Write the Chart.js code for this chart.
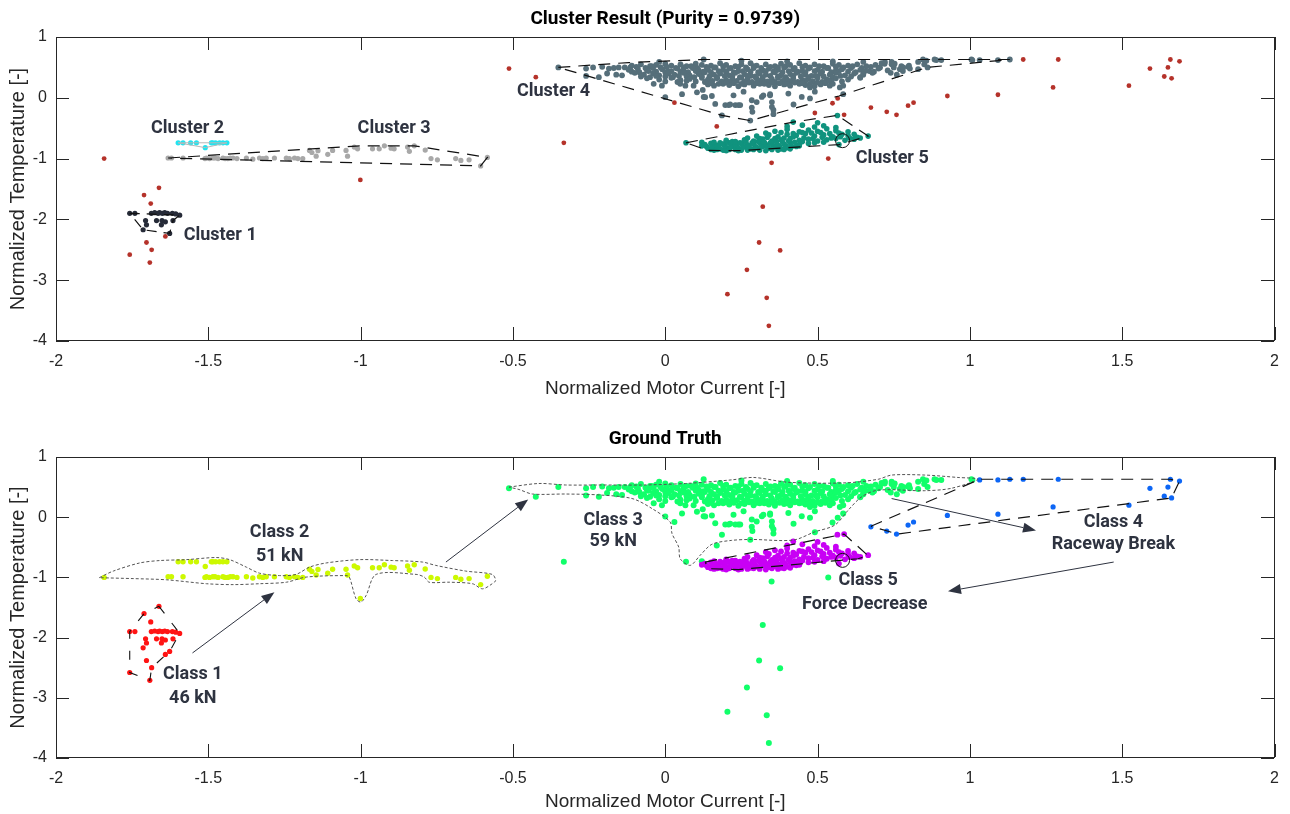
<!DOCTYPE html>
<html>
<head>
<meta charset="utf-8">
<title>Cluster Result vs Ground Truth</title>
<script src="https://cdn.jsdelivr.net/npm/chart.js@4.4.1/dist/chart.umd.min.js"></script>
<style>
  html, body { margin: 0; padding: 0; background: #fff; }
  #wrap { position: relative; width: 1290px; height: 814px; }
  #top { position: absolute; left: 0; top: 0; }
  #bottom { position: absolute; left: 0; top: 420px; }
</style>
</head>
<body>
<div id="wrap">
  <canvas id="top" width="1290" height="410"></canvas>
  <canvas id="bottom" width="1290" height="394"></canvas>
</div>
<script>
// tick values on both axes
var xTicks = [-2, -1.5, -1, -0.5, 0, 0.5, 1, 1.5, 2];
var yTicks = [-4, -3, -2, -1, 0, 1];

// cluster points, [current, temperature]
var cluster1Pts = [
  [-1.758,-1.90],[-1.741,-1.90],[-1.687,-1.90],[-1.676,-1.89],[-1.665,-1.90],[-1.660,-1.89],[-1.651,-1.90],
  [-1.643,-1.89],[-1.634,-1.90],[-1.618,-1.90],[-1.607,-1.91],[-1.594,-1.93],
  [-1.706,-2.02],[-1.670,-2.02],[-1.652,-2.02],[-1.641,-2.04],[-1.616,-2.02],
  [-1.703,-2.09],[-1.654,-2.09],[-1.714,-2.17],[-1.627,-2.23]
];
var cluster2Pts = [
  [-1.599,-0.74],[-1.583,-0.74],[-1.558,-0.74],[-1.539,-0.74],[-1.490,-0.74],[-1.485,-0.74],
  [-1.476,-0.74],[-1.463,-0.74],[-1.452,-0.74],[-1.439,-0.74],[-1.510,-0.82]
];
var cluster3Pts = [
  [-1.632,-0.99],[-1.621,-0.99],[-1.583,-0.99],[-1.511,-1.0],[-1.506,-0.99],[-1.496,-1.0],[-1.485,-0.99],
  [-1.478,-0.99],[-1.468,-1.0],[-1.452,-0.99],[-1.445,-1.0],[-1.436,-1.0],[-1.428,-0.99],[-1.419,-0.99],
  [-1.406,-1.0],[-1.375,-0.99],[-1.354,-1.01],[-1.332,-0.99],[-1.321,-1.0],[-1.31,-0.99],[-1.283,-0.99],
  [-1.244,-0.99],[-1.234,-1.0],[-1.217,-0.99],[-1.206,-1.0],[-1.19,-1.0],[-1.168,-0.865],[-1.16,-0.90],
  [-1.146,-0.96],[-1.14,-0.87],[-1.108,-0.93],[-1.092,-0.865],[-1.048,-0.865],[-1.043,-0.96],[-1.021,-0.81],
  [-1.01,-0.84],[-0.961,-0.84],[-0.939,-0.84],[-0.922,-0.79],[-0.90,-0.83],[-0.89,-0.84],[-0.846,-0.81],
  [-0.84,-0.88],[-0.824,-0.79],[-0.788,-0.86],[-0.769,-1.0],[-0.748,-1.02],[-0.688,-1.0],[-0.671,-1.03],
  [-0.644,-1.02],[-0.606,-1.12],[-0.584,-0.98]
];
var cluster4Pts = [
  [-0.351,0.50],[-0.26,0.48],[-0.237,0.50],[-0.207,0.51],[-0.185,0.48],[-0.169,0.49],[-0.153,0.50],[-0.133,0.50],
  [-0.26,0.36],[-0.218,0.34],[-0.191,0.40],[-0.161,0.38],[-0.142,0.37],
  [-0.11,0.53],[-0.08,0.55],[-0.05,0.52],[-0.03,0.54],[0.0,0.56],[0.02,0.53],[0.05,0.55],[0.07,0.52],[0.10,0.56],
  [0.12,0.54],[0.15,0.53],[0.18,0.57],[0.20,0.54],[0.23,0.52],[0.25,0.55],[0.28,0.57],[0.30,0.53],[0.33,0.55],
  [0.36,0.52],[0.38,0.56],[0.41,0.54],[0.44,0.57],[0.46,0.53],[0.49,0.55],[0.52,0.52],[0.55,0.56],[0.57,0.54],
  [0.60,0.53],[0.63,0.55],[0.66,0.52],[0.69,0.54],[0.72,0.56],
  [-0.115,0.50],[-0.095,0.51],[-0.065,0.49],[-0.045,0.52],[-0.015,0.50],[0.005,0.51],[0.035,0.49],[0.06,0.50],
  [0.085,0.52],[0.105,0.49],[0.135,0.51],[0.165,0.50],[0.19,0.52],[0.215,0.49],[0.24,0.51],[0.265,0.50],
  [0.29,0.52],[0.315,0.49],[0.345,0.51],[0.37,0.50],[0.395,0.52],[0.425,0.49],[0.45,0.51],[0.475,0.50],
  [0.505,0.52],[0.535,0.49],[0.56,0.51],[0.585,0.50],[0.615,0.52],[0.645,0.49],[0.675,0.51],[0.705,0.50],
  [-0.12,0.46],[-0.09,0.48],[-0.06,0.45],[-0.04,0.49],[-0.01,0.47],[0.01,0.44],[0.04,0.48],[0.06,0.46],[0.09,0.49],
  [0.11,0.45],[0.14,0.47],[0.16,0.50],[0.19,0.46],[0.21,0.48],[0.24,0.44],[0.27,0.47],[0.29,0.49],[0.32,0.45],
  [0.34,0.48],[0.37,0.46],[0.39,0.50],[0.42,0.47],[0.45,0.44],[0.47,0.48],[0.50,0.46],[0.53,0.49],[0.56,0.45],
  [0.58,0.47],[0.61,0.49],[0.64,0.46],[0.67,0.44],[0.70,0.48],[0.73,0.45],[0.77,0.47],
  [-0.11,0.43],[-0.085,0.42],[-0.055,0.44],[-0.03,0.43],[0.0,0.42],[0.02,0.44],[0.05,0.43],[0.075,0.42],
  [0.10,0.44],[0.125,0.43],[0.15,0.42],[0.175,0.44],[0.20,0.43],[0.225,0.42],[0.255,0.44],[0.28,0.43],
  [0.305,0.42],[0.33,0.44],[0.355,0.43],[0.385,0.42],[0.405,0.44],[0.435,0.43],[0.46,0.42],[0.49,0.44],
  [0.515,0.43],[0.545,0.42],[0.57,0.44],[0.60,0.43],[0.625,0.42],[0.655,0.44],[0.685,0.43],
  [-0.10,0.41],[-0.07,0.38],[-0.04,0.40],[-0.02,0.37],[0.01,0.40],[0.03,0.38],[0.06,0.41],[0.08,0.37],[0.11,0.39],
  [0.13,0.42],[0.16,0.38],[0.18,0.40],[0.21,0.37],[0.23,0.41],[0.26,0.39],[0.28,0.36],[0.31,0.40],[0.33,0.38],
  [0.36,0.42],[0.38,0.37],[0.41,0.39],[0.43,0.41],[0.46,0.38],[0.48,0.36],[0.51,0.40],[0.54,0.38],[0.56,0.41],
  [0.59,0.37],[0.62,0.40],[0.65,0.38],[0.68,0.41],
  [-0.08,0.35],[-0.05,0.34],[-0.03,0.36],[0.0,0.35],[0.025,0.34],[0.045,0.36],[0.07,0.35],[0.095,0.34],
  [0.12,0.36],[0.145,0.35],[0.17,0.34],[0.195,0.36],[0.22,0.35],[0.245,0.34],[0.27,0.36],[0.295,0.35],
  [0.32,0.34],[0.345,0.36],[0.37,0.35],[0.395,0.34],[0.42,0.36],[0.445,0.35],[0.47,0.34],[0.495,0.36],
  [0.52,0.35],[0.55,0.34],[0.575,0.36],[0.61,0.35],[0.64,0.34],
  [-0.06,0.32],[-0.02,0.30],[0.02,0.33],[0.05,0.29],[0.08,0.31],[0.12,0.33],[0.14,0.30],[0.17,0.32],[0.20,0.29],
  [0.22,0.31],[0.25,0.33],[0.27,0.30],[0.30,0.32],[0.32,0.29],[0.35,0.31],[0.37,0.33],[0.40,0.30],[0.42,0.32],
  [0.45,0.29],[0.47,0.31],[0.50,0.33],[0.53,0.30],[0.56,0.32],[0.60,0.30],[0.64,0.33],
  [0.0,0.27],[0.04,0.26],[0.07,0.28],[0.10,0.27],[0.13,0.26],[0.155,0.28],[0.185,0.27],[0.21,0.26],
  [0.235,0.28],[0.26,0.27],[0.285,0.26],[0.31,0.28],[0.335,0.27],[0.36,0.26],[0.385,0.28],[0.41,0.27],
  [0.435,0.26],[0.46,0.28],[0.485,0.27],[0.515,0.26],[0.545,0.28],[0.58,0.27],
  [0.14,0.22],[0.16,0.20],[0.19,0.23],[0.21,0.21],[0.24,0.19],[0.26,0.22],[0.29,0.20],[0.31,0.23],[0.34,0.21],
  [0.36,0.19],[0.39,0.22],[0.41,0.20],[0.44,0.23],[0.46,0.21],[0.49,0.19],[0.51,0.22],[0.54,0.20],
  [0.15,0.24],[0.175,0.23],[0.20,0.25],[0.225,0.24],[0.25,0.23],[0.275,0.25],[0.30,0.24],[0.325,0.23],
  [0.35,0.25],[0.375,0.24],[0.40,0.23],[0.425,0.25],[0.45,0.24],[0.475,0.23],[0.50,0.25],[0.525,0.24],[0.55,0.23],
  [0.126,0.63],[-0.02,0.59],[0.25,0.61],[0.40,0.60],[0.55,0.60],[0.65,0.59],
  [0.75,0.50],[0.78,0.44],[0.80,0.53],[0.83,0.47],[0.85,0.55],[0.74,0.41],[0.76,0.38],
  [0.710,0.57],[0.721,0.59],[0.743,0.59],[0.743,0.55],[0.753,0.56],[0.775,0.52],[0.781,0.50],[0.797,0.51],
  [0.803,0.48],[0.830,0.59],[0.846,0.63],[0.857,0.61],[0.861,0.50],[0.884,0.63],[0.890,0.62],[0.906,0.62],
  [1.005,0.63],[1.008,0.62],
  [-0.038,0.23],[-0.011,0.20],[0.000,0.01],[0.049,0.23],[0.066,0.20],[0.093,0.20],[0.104,0.09],[0.123,0.13],
  [0.131,0.01],[0.153,0.03],[0.164,-0.10],[0.197,-0.12],[0.208,-0.12],[0.230,-0.12],[0.240,-0.12],[0.224,0.04],
  [0.055,0.06],[0.126,0.015],[0.213,-0.11],[0.246,-0.12],[0.257,0.10],[0.284,-0.04],[0.284,-0.16],[0.286,-0.23],
  [0.317,0.015],[0.344,0.04],[0.350,-0.15],[0.355,-0.20],[0.421,-0.11],[0.404,0.07],[0.448,0.015],[0.475,-0.01],
  [0.491,0.10],[0.573,0.17],[0.584,0.06],[0.279,-0.375],[0.186,-0.29],[0.300,-0.07],[0.322,0.04],[0.344,0.06],
  [0.350,-0.07],[0.355,-0.27],[0.475,0.17],[0.584,0.20],[0.537,0.285],[0.650,0.395]
];
var c4TailPts = [[1.032,0.62],[1.092,0.62],[1.131,0.63]];
var c5TipPts = [[0.068,-0.74],[0.12,-0.73]];
var cluster5Pts = [
  [0.14,-0.83],[0.16,-0.81],[0.18,-0.84],[0.20,-0.82],[0.22,-0.80],[0.24,-0.83],[0.26,-0.81],[0.28,-0.84],
  [0.30,-0.82],[0.32,-0.80],[0.34,-0.83],[0.36,-0.81],[0.38,-0.84],[0.40,-0.82],[0.43,-0.80],
  [0.16,-0.86],[0.20,-0.87],[0.27,-0.86],[0.33,-0.87],[0.37,-0.86],
  [0.15,-0.85],[0.17,-0.85],[0.19,-0.86],[0.21,-0.85],[0.23,-0.85],[0.25,-0.86],[0.29,-0.85],[0.31,-0.86],
  [0.35,-0.85],[0.39,-0.85],[0.41,-0.84],
  [0.12,-0.79],[0.135,-0.80],[0.155,-0.79],[0.175,-0.80],[0.195,-0.79],[0.215,-0.80],[0.235,-0.79],[0.255,-0.80],
  [0.275,-0.79],[0.295,-0.80],[0.315,-0.79],[0.335,-0.80],[0.355,-0.79],[0.375,-0.80],[0.395,-0.79],[0.415,-0.80],[0.44,-0.79],
  [0.13,-0.77],[0.15,-0.75],[0.17,-0.78],[0.19,-0.76],[0.21,-0.74],[0.23,-0.77],[0.25,-0.75],[0.27,-0.78],
  [0.29,-0.76],[0.31,-0.74],[0.33,-0.77],[0.35,-0.75],[0.37,-0.78],[0.39,-0.76],[0.41,-0.74],[0.44,-0.77],[0.47,-0.75],
  [0.16,-0.73],[0.18,-0.74],[0.20,-0.73],[0.22,-0.72],[0.245,-0.74],[0.265,-0.73],[0.285,-0.74],[0.305,-0.72],
  [0.325,-0.73],[0.345,-0.74],[0.365,-0.72],[0.385,-0.73],[0.405,-0.71],[0.425,-0.73],[0.45,-0.72],[0.49,-0.74],[0.52,-0.73],
  [0.20,-0.70],[0.23,-0.72],[0.26,-0.69],[0.29,-0.71],[0.32,-0.68],[0.35,-0.71],[0.38,-0.69],[0.41,-0.67],
  [0.44,-0.70],[0.47,-0.68],[0.50,-0.71],[0.53,-0.69],[0.56,-0.67],[0.59,-0.70],[0.62,-0.68],[0.64,-0.66],
  [0.27,-0.66],[0.31,-0.67],[0.335,-0.65],[0.36,-0.67],[0.39,-0.66],[0.42,-0.64],[0.455,-0.66],[0.485,-0.67],
  [0.515,-0.65],[0.545,-0.66],[0.575,-0.64],[0.605,-0.66],
  [0.30,-0.63],[0.34,-0.61],[0.37,-0.64],[0.40,-0.60],[0.43,-0.62],[0.46,-0.59],[0.49,-0.63],[0.52,-0.61],
  [0.55,-0.64],[0.58,-0.60],[0.60,-0.62],[0.63,-0.65],
  [0.33,-0.58],[0.38,-0.57],[0.42,-0.59],[0.45,-0.57],[0.48,-0.58],[0.51,-0.57],[0.54,-0.59],[0.57,-0.58],[0.62,-0.60],
  [0.36,-0.55],[0.40,-0.52],[0.44,-0.56],[0.47,-0.53],[0.50,-0.55],[0.53,-0.51],[0.56,-0.54],[0.60,-0.56],
  [0.40,-0.47],[0.45,-0.45],[0.49,-0.48],[0.52,-0.46],[0.56,-0.49],
  [0.42,-0.40],[0.50,-0.41],[0.565,-0.29],[0.666,-0.63],[0.24,-0.87],[0.57,-0.77]
];

// noise points (red in the upper plot), grouped by their true class
var out1Pts = [[-1.662,-1.48],[-1.711,-1.60],[-1.689,-1.74],[-1.641,-2.28],[-1.703,-2.38],[-1.686,-2.50],[-1.758,-2.58],[-1.692,-2.71]];
var out2Pts = [[-1.842,-1.0],[-1.001,-1.35]];
var out3Pts = [
  [-0.513,0.48],[-0.425,0.34],[-0.333,-0.74],[0.030,-0.08],[0.169,-0.47],[0.349,-1.07],[0.491,-0.25],
  [0.535,-1.00],[0.549,-0.09],[0.566,-0.01],[0.320,-1.79],[0.308,-2.38],[0.377,-2.51],[0.268,-2.83],
  [0.204,-3.23],[0.333,-3.29],[0.340,-3.75]
];
var out4Pts = [
  [0.675,-0.16],[0.727,-0.23],[0.759,-0.28],[0.797,-0.13],[0.815,-0.08],[0.926,0.03],[1.092,0.05],[1.175,0.63],
  [1.273,0.17],[1.290,0.63],[1.522,0.20],[1.591,0.48],[1.638,0.35],[1.650,0.50],[1.658,0.63],[1.662,0.32],[1.688,0.60]
];
var out5Pts = [[0.587,-0.28]];

// boundaries
var hull1 = [[-1.758,-1.90],[-1.594,-1.93],[-1.616,-2.02],[-1.627,-2.23],[-1.714,-2.17],[-1.758,-1.90]];
var hull2 = [[-1.599,-0.74],[-1.439,-0.74],[-1.510,-0.82],[-1.599,-0.74]];
var hull3 = [[-1.632,-0.99],[-1.0,-0.79],[-0.824,-0.79],[-0.584,-0.98],[-0.606,-1.12],[-1.632,-0.99]];
var hull4 = [[-0.351,0.50],[-0.12,0.58],[0.126,0.63],[1.131,0.63],[0.86,0.50],[0.57,0.03],[0.279,-0.375],[0.186,-0.29],[-0.351,0.50]];
var hull5 = [[0.068,-0.74],[0.42,-0.40],[0.565,-0.29],[0.666,-0.63],[0.57,-0.77],[0.24,-0.87],[0.14,-0.865],[0.068,-0.74]];
var classHull1 = [[-1.662,-1.48],[-1.594,-1.93],[-1.627,-2.23],[-1.686,-2.50],[-1.692,-2.71],[-1.758,-2.58],[-1.758,-1.90],[-1.711,-1.60],[-1.662,-1.48]];
var classHull4 = [[0.675,-0.15],[1.032,0.63],[1.658,0.63],[1.688,0.60],[1.662,0.32],[0.762,-0.28],[0.729,-0.23],[0.675,-0.15]];
var classHull5 = [[0.131,-0.745],[0.587,-0.28],[0.666,-0.64],[0.633,-0.69],[0.24,-0.87],[0.142,-0.855],[0.131,-0.745]];
var class2Outline = [
  [-1.858,-1.005],[-1.812,-0.895],[-1.725,-0.76],[-1.659,-0.72],[-1.572,-0.705],[-1.474,-0.67],[-1.43,-0.705],
  [-1.375,-0.83],[-1.332,-0.93],[-1.266,-0.97],[-1.212,-0.95],[-1.168,-0.83],[-1.113,-0.76],[-1.004,-0.705],
  [-0.895,-0.72],[-0.797,-0.745],[-0.754,-0.80],[-0.655,-0.895],[-0.568,-0.95],[-0.557,-1.05],[-0.568,-1.105],
  [-0.60,-1.19],[-0.633,-1.105],[-0.709,-1.08],[-0.775,-1.08],[-0.791,-0.995],[-0.818,-0.95],[-0.949,-0.95],
  [-0.982,-1.30],[-0.999,-1.41],[-1.015,-1.355],[-1.037,-0.995],[-1.048,-0.97],[-1.179,-0.995],[-1.244,-1.08],
  [-1.332,-1.105],[-1.419,-1.12],[-1.506,-1.105],[-1.637,-1.04],[-1.747,-1.02],[-1.858,-1.005]
];
var class3Outline = [
  [-0.513,0.50],[-0.415,0.56],[-0.327,0.535],[-0.218,0.535],[-0.076,0.535],[0.066,0.56],[0.218,0.62],[0.29,0.66],
  [0.404,0.58],[0.59,0.57],[0.699,0.63],[0.743,0.70],[0.852,0.70],[0.961,0.66],[1.026,0.63],[0.939,0.48],
  [0.852,0.44],[0.699,0.45],[0.645,0.34],[0.601,0.12],[0.557,-0.13],[0.49,-0.245],[0.42,-0.38],[0.284,-0.37],
  [0.218,-0.385],[0.153,-0.45],[0.115,-0.63],[0.082,-0.80],[0.049,-0.69],[0.044,-0.495],[0.022,-0.27],[0.016,-0.08],
  [-0.044,0.145],[-0.109,0.31],[-0.218,0.37],[-0.327,0.385],[-0.436,0.385],[-0.48,0.46],[-0.513,0.50]
];
var circleTop = [[0.582,-0.705]];
var circleBottom = [[0.582,-0.717]];

// text and arrows
var topLabels = [
  { text: 'Cluster 1', x: -1.461, y: -2.27 },
  { text: 'Cluster 2', x: -1.568, y: -0.51 },
  { text: 'Cluster 3', x: -0.890, y: -0.51 },
  { text: 'Cluster 4', x: -0.367, y: 0.10 },
  { text: 'Cluster 5', x: 0.745, y: -1.0 }
];
var bottomLabels = [
  { text: 'Class 1', x: -1.551, y: -2.605 }, { text: '46 kN', x: -1.551, y: -3.01 },
  { text: 'Class 2', x: -1.266, y: -0.26 }, { text: '51 kN', x: -1.266, y: -0.66 },
  { text: 'Class 3', x: -0.171, y: -0.05 }, { text: '59 kN', x: -0.171, y: -0.41 },
  { text: 'Class 4', x: 1.471, y: -0.08 }, { text: 'Raceway Break', x: 1.471, y: -0.45 },
  { text: 'Class 5', x: 0.666, y: -1.05 }, { text: 'Force Decrease', x: 0.655, y: -1.455 }
];
var bottomArrows = [
  [-1.552, -2.255, -1.283, -1.245],
  [-0.720, -0.745, -0.450, 0.295],
  [0.743, 0.31, 1.217, -0.22],
  [1.472, -0.745, 0.928, -1.23]
];

var class1Pts = cluster1Pts.concat(out1Pts);
var class2Pts = cluster2Pts.concat(cluster3Pts, out2Pts);
var class3Pts = cluster4Pts.concat(c5TipPts, out3Pts);
var class4Pts = c4TailPts.concat(out4Pts);
var class5Pts = cluster5Pts.concat(out5Pts);
var noisePts = out1Pts.concat(out2Pts, out3Pts, out4Pts, out5Pts);

var AXIS = '#262626';
var TEXT = '#2e3340';

function pts(arr) {
  return arr.map(function (p) { return { x: p[0], y: p[1] }; });
}

function dots(arr, color, r, order) {
  return { data: pts(arr), backgroundColor: color, pointBorderWidth: 0, pointRadius: r, pointHoverRadius: r, order: order };
}

function outline(arr, color, dash, width, tension, order) {
  return { data: pts(arr), showLine: true, borderColor: color, borderWidth: width, borderDash: dash,
           pointRadius: 0, pointHoverRadius: 0, tension: tension, fill: false, order: order };
}

function ring(arr) {
  return { data: pts(arr), pointRadius: 7, pointHoverRadius: 7, backgroundColor: 'rgba(0,0,0,0)',
           pointBorderColor: '#111', borderColor: '#111', pointBorderWidth: 1, order: 0 };
}

function drawArrow(ctx, x1, y1, x2, y2) {
  var ang = Math.atan2(y2 - y1, x2 - x1);
  var len = 13, half = 5;
  var bx = x2 - len * Math.cos(ang), by = y2 - len * Math.sin(ang);
  ctx.beginPath();
  ctx.moveTo(x1, y1);
  ctx.lineTo(bx, by);
  ctx.stroke();
  ctx.beginPath();
  ctx.moveTo(x2, y2);
  ctx.lineTo(bx + half * Math.sin(ang), by - half * Math.cos(ang));
  ctx.lineTo(bx - half * Math.sin(ang), by + half * Math.cos(ang));
  ctx.closePath();
  ctx.fill();
}

// matlab style box with inward ticks on all four sides
var boxPlugin = {
  id: 'matBox',
  afterDraw: function (chart) {
    var ctx = chart.ctx, a = chart.chartArea, sx = chart.scales.x, sy = chart.scales.y;
    var L = Math.round(a.left), R = Math.round(a.right) - 1;
    var T = Math.round(a.top), B = Math.round(a.bottom) - 1;
    ctx.save();
    ctx.fillStyle = AXIS;
    xTicks.forEach(function (v) {
      var px = Math.round(sx.getPixelForValue(v));
      ctx.fillRect(px, B - 13, 1, 13);
      ctx.fillRect(px, T, 1, 13);
    });
    yTicks.forEach(function (v) {
      var py = Math.round(sy.getPixelForValue(v));
      ctx.fillRect(L, py, 13, 1);
      ctx.fillRect(R - 13, py, 13, 1);
    });
    ctx.fillRect(L, T, R - L + 1, 1);
    ctx.fillRect(L, B, R - L + 1, 1);
    ctx.fillRect(L, T, 1, B - T + 1);
    ctx.fillRect(R, T, 1, B - T + 1);
    ctx.restore();
  }
};

var notesPlugin = {
  id: 'notes',
  afterDatasetsDraw: function (chart, args, opts) {
    var ctx = chart.ctx, sx = chart.scales.x, sy = chart.scales.y;
    ctx.save();
    ctx.strokeStyle = TEXT;
    ctx.fillStyle = TEXT;
    ctx.lineWidth = 1;
    ctx.setLineDash([]);
    (opts.arrows || []).forEach(function (r) {
      drawArrow(ctx, sx.getPixelForValue(r[0]), sy.getPixelForValue(r[1]), sx.getPixelForValue(r[2]), sy.getPixelForValue(r[3]));
    });
    ctx.font = 'bold 18px Roboto';
    ctx.textAlign = 'center';
    ctx.textBaseline = 'middle';
    (opts.labels || []).forEach(function (l) {
      ctx.fillText(l.text, sx.getPixelForValue(l.x), sy.getPixelForValue(l.y));
    });
    ctx.restore();
  }
};

function makeOptions(titleText, xAxisHeight, xTitlePad, labels, arrows) {
  return {
    responsive: false,
    devicePixelRatio: 1,
    animation: false,
    events: [],
    layout: { padding: { left: 0, right: 12, top: 0, bottom: 0 } },
    plugins: {
      legend: { display: false },
      tooltip: { enabled: false },
      title: {
        display: true, text: titleText, fullSize: false, color: '#000',
        font: { family: 'Roboto', size: 19, weight: 'bold', lineHeight: '23px' },
        padding: { top: 8, bottom: 6 }
      },
      notes: { labels: labels, arrows: arrows }
    },
    scales: {
      x: {
        type: 'linear', min: -2, max: 2,
        afterBuildTicks: function (s) { s.ticks = xTicks.map(function (v) { return { value: v }; }); },
        afterFit: function (s) { s.height = xAxisHeight; },
        ticks: {
          callback: function (v) { return String(v); },
          padding: 11, color: AXIS, maxRotation: 0, autoSkip: false,
          font: { family: 'Liberation Sans', size: 16 }
        },
        grid: { display: false, drawTicks: false },
        border: { display: false },
        title: {
          display: true, text: 'Normalized Motor Current [-]', color: AXIS,
          font: { family: 'Liberation Sans', size: 19 }, padding: { top: 0, bottom: xTitlePad }
        }
      },
      y: {
        type: 'linear', min: -4, max: 1,
        afterBuildTicks: function (s) { s.ticks = yTicks.map(function (v) { return { value: v }; }); },
        afterFit: function (s) { s.width = 56; },
        ticks: {
          callback: function (v) { return String(v); },
          padding: 9, color: AXIS,
          font: { family: 'Liberation Sans', size: 16 }
        },
        grid: { display: false, drawTicks: false },
        border: { display: false },
        title: {
          display: true, text: 'Normalized Temperature [-]', color: AXIS,
          font: { family: 'Liberation Sans', size: 20 }, padding: { top: 6, bottom: 0 }
        }
      }
    }
  };
}

new Chart(document.getElementById('top'), {
  type: 'scatter',
  data: {
    datasets: [
      ring(circleTop),
      outline(hull1, '#111', [10, 7], 1.2, 0, 1),
      outline(hull2, '#b8b8b8', [], 1, 0, 1),
      outline(hull3, '#111', [12, 8], 1.2, 0, 1),
      outline(hull4, '#111', [12, 8], 1.2, 0, 1),
      outline(hull5, '#111', [12, 8], 1.2, 0, 1),
      dots(noisePts, '#b5322a', 2.4, 3),
      dots(cluster1Pts, '#262b38', 2.6, 4),
      dots(cluster2Pts, '#22e4f0', 2.6, 4),
      dots(cluster3Pts, '#a8a8a8', 2.6, 4),
      dots(c5TipPts.concat(cluster5Pts), '#10937e', 2.8, 4),
      dots(cluster4Pts.concat(c4TailPts), '#566f7a', 2.9, 5)
    ]
  },
  options: makeOptions('Cluster Result (Purity = 0.9739)', 69, 10, topLabels, []),
  plugins: [boxPlugin, notesPlugin]
});

new Chart(document.getElementById('bottom'), {
  type: 'scatter',
  data: {
    datasets: [
      ring(circleBottom),
      outline(classHull1, '#111', [9, 12], 1.1, 0, 1),
      outline(classHull4, '#111', [12, 8], 1.2, 0, 1),
      outline(classHull5, '#111', [12, 8], 1.2, 0, 1),
      outline(class2Outline, '#555', [3, 2], 1, 0.3, 1),
      outline(class3Outline, '#555', [3, 2], 1, 0.3, 1),
      dots(class5Pts, '#c800f5', 2.9, 3),
      dots(class4Pts, '#0d66f5', 2.6, 3),
      dots(class1Pts, '#ff1414', 2.6, 4),
      dots(class2Pts, '#cdf900', 2.7, 4),
      dots(class3Pts, '#11ff6a', 3, 5)
    ]
  },
  options: makeOptions('Ground Truth', 56, 1, bottomLabels, bottomArrows),
  plugins: [boxPlugin, notesPlugin]
});
</script>
</body>
</html>
